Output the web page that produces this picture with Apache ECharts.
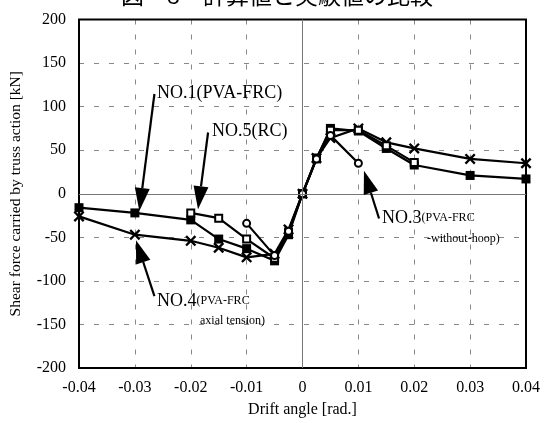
<!DOCTYPE html>
<html><head><meta charset="utf-8">
<script src="https://cdn.jsdelivr.net/npm/echarts@6/dist/echarts.min.js"></script>
<style>html,body{margin:0;padding:0;background:#fff}#c{width:544px;height:423px}</style>
</head><body><div id="c"></div>
<script>
// ---- data ----
const titleText = '図－8　計算値と実験値の比較';
const xTicks = [-0.04, -0.03, -0.02, -0.01, 0, 0.01, 0.02, 0.03, 0.04];
const no1X = [-0.04,-0.03,-0.02,-0.015,-0.01,-0.005,-0.0025,0,0.0025,0.005,0.01,0.015,0.02,0.03,0.04];
const no1Y = [-16,-22,-30,-52,-63,-77,-47,0,40,75,72,52,33,21,17];
const no4X = [-0.04,-0.03,-0.02,-0.015,-0.01,-0.005,-0.0025,0,0.0025,0.005,0.01,0.015,0.02,0.03,0.04];
const no4Y = [-26,-47,-54,-62,-73,-69,-41,0,41,64,75,59,52,40,35];
const no5X = [-0.02,-0.015,-0.01,-0.005,-0.0025,0,0.0025,0.005,0.01,0.015,0.02];
const no5Y = [-22,-28,-52,-74,-44,0,41,73,73,55,36];
const no3X = [-0.01,-0.005,-0.0025,0,0.0025,0.005,0.01];
const no3Y = [-34,-71,-43,0,40,67,35];
// annotation arrows: [start, tip] in data coords
const arrows = [
  [[-0.0265, 114.5], [-0.0292, -19.7]],
  [[-0.0169, 70.3], [-0.0187, -17.7]],
  [[0.0137, -28.4], [0.0110, 26.3]],
  [[-0.0265, -117.4], [-0.0298, -53.3]]
];

const pair = (xs, ys) => xs.map((x, i) => [x, ys[i]]);
const serif = 'Liberation Serif';
const xMark = 'path://M0,1.5L1.5,0L5,3.5L8.5,0L10,1.5L6.5,5L10,8.5L8.5,10L5,6.5L1.5,10L0,8.5L3.5,5Z';

const chart = echarts.init(document.getElementById('c'));
const lineBase = { type: 'line', lineStyle: { color: '#000', width: 2.2 }, itemStyle: { color: '#000' }, animation: false, z: 3 };

chart.setOption({
  animation: false,
  backgroundColor: '#fff',
  grid: { left: 77, right: 18, top: 19.5, bottom: 53.5, show: true, borderColor: '#000', borderWidth: 2, backgroundColor: 'transparent', z: 5 },
  xAxis: {
    type: 'value', min: -0.04, max: 0.04, interval: 0.01,
    axisLine: { show: false, onZero: false }, axisTick: { show: false },
    axisLabel: { color: '#000', fontFamily: serif, fontSize: 16, margin: 12,
      formatter: v => Math.abs(v) < 1e-9 ? '0' : v.toFixed(2) },
    splitLine: { show: true, lineStyle: { color: '#888', type: [5, 10], width: 1 } },
    name: 'Drift angle [rad.]', nameLocation: 'middle', nameGap: 34,
    nameTextStyle: { color: '#000', fontFamily: serif, fontSize: 16 }
  },
  yAxis: {
    type: 'value', min: -200, max: 200, interval: 50,
    axisLine: { show: false, onZero: false }, axisTick: { show: false },
    axisLabel: { color: '#000', fontFamily: serif, fontSize: 16, margin: 13 },
    splitLine: { show: true, lineStyle: { color: '#888', type: [5, 10], width: 1 } },
    name: 'Shear force carried by truss action [kN]', nameLocation: 'middle', nameGap: 55,
    nameTextStyle: { color: '#000', fontFamily: serif, fontSize: 15.5 }
  },
  series: [
    Object.assign({}, lineBase, { name: 'NO.1', data: pair(no1X, no1Y), symbol: 'rect', symbolSize: 9,
      markLine: { silent: true, symbol: 'none', label: { show: false }, animation: false,
        lineStyle: { color: '#777', type: 'solid', width: 1 },
        data: [{ xAxis: 0 }, { yAxis: 0 }] } }),
    Object.assign({}, lineBase, { name: 'NO.4', data: pair(no4X, no4Y), symbol: xMark, symbolSize: 11 }),
    Object.assign({}, lineBase, { name: 'NO.5', data: pair(no5X, no5Y), symbol: 'emptyRect', symbolSize: 7,
      itemStyle: { color: '#000', borderColor: '#000', borderWidth: 1.5 } }),
    Object.assign({}, lineBase, { name: 'NO.3', data: pair(no3X, no3Y), symbol: 'emptyCircle', symbolSize: 7,
      itemStyle: { color: '#000', borderColor: '#000', borderWidth: 1.5 } })
  ]
});

// graphic annotations
const g = [];
g.push({ type: 'text', x: 277, y: 7, style: { text: titleText, font: '23px "Noto Sans CJK JP"', fill: '#000', textAlign: 'center', textVerticalAlign: 'bottom' } });
g.push({ type: 'text', x: 157, y: 93, style: { text: 'NO.1(PVA-FRC)', font: '18px "Liberation Serif"', fill: '#000', textVerticalAlign: 'middle' } });
g.push({ type: 'text', x: 212, y: 131, style: { text: 'NO.5(RC)', font: '18px "Liberation Serif"', fill: '#000', textVerticalAlign: 'middle' } });
g.push({ type: 'text', x: 382, y: 218, style: { text: '{a|NO.3}{b|(PVA-FRC}', rich: { a: { fontFamily: serif, fontSize: 18, fill: '#000' }, b: { fontFamily: serif, fontSize: 12, fill: '#000' } }, verticalAlign: 'middle', textVerticalAlign: 'middle' } });
g.push({ type: 'text', x: 427, y: 239, style: { text: '-without-hoop)', font: '12px "Liberation Serif"', fill: '#000', textVerticalAlign: 'middle' } });
g.push({ type: 'text', x: 157, y: 301, style: { text: '{a|NO.4}{b|(PVA-FRC}', rich: { a: { fontFamily: serif, fontSize: 18, fill: '#000' }, b: { fontFamily: serif, fontSize: 12, fill: '#000' } }, verticalAlign: 'middle', textVerticalAlign: 'middle' } });
g.push({ type: 'text', x: 200, y: 321, style: { text: 'axial tension)', font: '12px "Liberation Serif"', fill: '#000', textVerticalAlign: 'middle' } });

arrows.forEach(a => {
  const p0 = chart.convertToPixel({ gridIndex: 0 }, a[0]);
  const p1 = chart.convertToPixel({ gridIndex: 0 }, a[1]);
  const dx = p1[0] - p0[0], dy = p1[1] - p0[1];
  const L = Math.hypot(dx, dy), ux = dx / L, uy = dy / L;
  const headLen = 23, headW = 7.5;
  const bx = p1[0] - ux * headLen, by = p1[1] - uy * headLen;
  g.push({ type: 'line', z: 10, shape: { x1: p0[0], y1: p0[1], x2: bx, y2: by }, style: { stroke: '#000', lineWidth: 2.2 } });
  g.push({ type: 'polygon', z: 10, shape: { points: [[p1[0], p1[1]], [bx - uy * headW, by + ux * headW], [bx + uy * headW, by - ux * headW]] }, style: { fill: '#000' } });
});
chart.setOption({ graphic: g });
</script></body></html>
